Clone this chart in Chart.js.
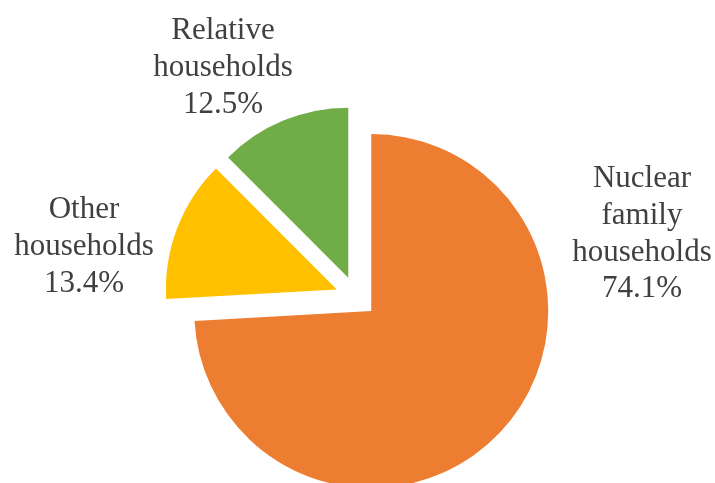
<!DOCTYPE html>
<html>
<head>
<meta charset="utf-8">
<script src="https://cdn.jsdelivr.net/npm/chart.js@4.4.1/dist/chart.umd.min.js"></script>
<style>
  html, body { margin: 0; padding: 0; background: #ffffff; }
  #wrap { width: 715px; height: 483px; position: relative; }
</style>
</head>
<body>
<div id="wrap"><canvas id="c" width="715" height="483"></canvas></div>
<script>
// ---- data ----
const categories = ["Nuclear family households", "Other households", "Relative households"];
const labelLines = [["Nuclear", "family", "households"], ["Other", "households"], ["Relative", "households"]];
const shares = [74.1, 13.4, 12.5];

// ---- style ----
const colors = ["#ED7D31", "#FFC000", "#70AD47"];
const EXPLODE = 20.7;               // px each slice is pulled out along its bisector
const sliceRadius = [177, 171, 170]; // px outer radius per slice
const labelPos = [                   // centre x, first baseline y of each label block
  { x: 642, y: 187 },
  { x: 84, y: 218 },
  { x: 223, y: 39 }
];
const LINE_H = 36.8;
const FONT = '31px "Liberation Serif", "Times New Roman", serif';

const explodePlugin = {
  id: 'explodeSlices',
  afterDatasetUpdate(chart, args) {
    const meta = chart.getDatasetMeta(args.index);
    meta.data.forEach((arc, i) => {
      const mid = (arc.startAngle + arc.endAngle) / 2;
      arc.x = arc.x + Math.cos(mid) * EXPLODE;
      arc.y = arc.y + Math.sin(mid) * EXPLODE;
      arc.outerRadius = sliceRadius[i];
    });
  }
};

const labelPlugin = {
  id: 'sliceLabels',
  afterDatasetsDraw(chart) {
    const ctx = chart.ctx;
    const data = chart.data.datasets[0].data;
    ctx.save();
    ctx.font = FONT;
    ctx.fillStyle = '#404040';
    ctx.textAlign = 'center';
    ctx.textBaseline = 'alphabetic';
    data.forEach((v, i) => {
      const lines = labelLines[i].concat([v.toFixed(1) + '%']);
      lines.forEach((t, k) => {
        ctx.fillText(t, labelPos[i].x, labelPos[i].y + k * LINE_H);
      });
    });
    ctx.restore();
  }
};

new Chart(document.getElementById('c'), {
  type: 'pie',
  data: {
    labels: categories,
    datasets: [{
      data: shares,
      backgroundColor: colors,
      borderWidth: 0,
      clip: false
    }]
  },
  options: {
    responsive: false,
    animation: false,
    events: [],
    radius: 177,
    layout: { padding: { left: 0, right: 2.6, top: 110.6, bottom: 0 } },
    plugins: {
      legend: { display: false },
      tooltip: { enabled: false },
      title: { display: false }
    }
  },
  plugins: [explodePlugin, labelPlugin]
});
</script>
</body>
</html>
